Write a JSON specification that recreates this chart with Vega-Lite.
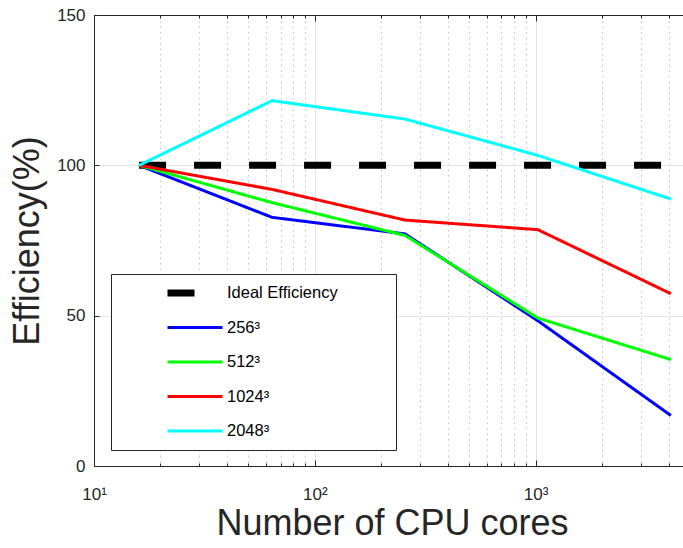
{
  "$schema": "https://vega.github.io/schema/vega-lite/v6.json",
  "width": 589,
  "height": 451,
  "autosize": {"type": "none"},
  "padding": {"left": 94, "top": 15, "right": 0, "bottom": 82},
  "background": "white",
  "config": {
    "view": {"stroke": null},
    "font": "Liberation Sans",
    "axis": {
      "domainColor": "#262626",
      "domainWidth": 1,
      "tickColor": "#262626",
      "labelColor": "#262626",
      "titleColor": "#262626",
      "labelFont": "Liberation Sans",
      "titleFont": "Liberation Sans",
      "titleFontWeight": "normal",
      "labelFontSize": 17,
      "titleFontSize": 36
    },
    "legend": {
      "orient": "none",
      "legendX": 17,
      "legendY": 259,
      "padding": 10,
      "strokeColor": "#262626",
      "fillColor": "white",
      "symbolType": "stroke",
      "symbolSize": 3025,
      "symbolOffset": 43,
      "clipHeight": 18,
      "labelFont": "Liberation Sans",
      "labelFontSize": 16.5,
      "labelColor": "#000000",
      "labelOffset": 1,
      "labelLimit": 0,
      "rowPadding": 16.5
    }
  },
  "data": {
    "values": [
      {"cores": 16, "efficiency": 100, "series": "Ideal Efficiency"},
      {"cores": 64, "efficiency": 100, "series": "Ideal Efficiency"},
      {"cores": 256, "efficiency": 100, "series": "Ideal Efficiency"},
      {"cores": 1024, "efficiency": 100, "series": "Ideal Efficiency"},
      {"cores": 4096, "efficiency": 100, "series": "Ideal Efficiency"},
      {"cores": 16, "efficiency": 100, "series": "256³"},
      {"cores": 64, "efficiency": 82.7, "series": "256³"},
      {"cores": 256, "efficiency": 77.2, "series": "256³"},
      {"cores": 1024, "efficiency": 48.3, "series": "256³"},
      {"cores": 4096, "efficiency": 16.8, "series": "256³"},
      {"cores": 16, "efficiency": 100, "series": "512³"},
      {"cores": 64, "efficiency": 87.6, "series": "512³"},
      {"cores": 256, "efficiency": 76.7, "series": "512³"},
      {"cores": 1024, "efficiency": 49.2, "series": "512³"},
      {"cores": 4096, "efficiency": 35.4, "series": "512³"},
      {"cores": 16, "efficiency": 100, "series": "1024³"},
      {"cores": 64, "efficiency": 92.0, "series": "1024³"},
      {"cores": 256, "efficiency": 81.8, "series": "1024³"},
      {"cores": 1024, "efficiency": 78.6, "series": "1024³"},
      {"cores": 4096, "efficiency": 57.3, "series": "1024³"},
      {"cores": 16, "efficiency": 100, "series": "2048³"},
      {"cores": 64, "efficiency": 121.5, "series": "2048³"},
      {"cores": 256, "efficiency": 115.4, "series": "2048³"},
      {"cores": 1024, "efficiency": 103.3, "series": "2048³"},
      {"cores": 4096, "efficiency": 88.8, "series": "2048³"}
    ]
  },
  "resolve": {"axis": {"x": "independent"}},
  "layer": [
    {
      "mark": {"type": "line", "clip": true},
      "encoding": {
        "x": {
          "field": "cores",
          "type": "quantitative",
          "scale": {"type": "log", "domain": [10, 5000], "range": [0, 596], "nice": false},
          "axis": {
            "orient": "bottom",
            "title": "Number of CPU cores",
            "titlePadding": 1,
            "values": [10, 20, 30, 40, 50, 60, 70, 80, 90, 100, 200, 300, 400, 500, 600, 700, 800, 900, 1000, 2000, 3000, 4000],
            "labelExpr": "datum.value == 10 ? '10¹' : datum.value == 100 ? '10²' : datum.value == 1000 ? '10³' : ''",
            "labelOverlap": false,
            "labelFlush": false,
            "labelPadding": 26,
            "tickSize": {"condition": {"test": "datum.value == 10 || datum.value == 100 || datum.value == 1000", "value": -6}, "value": -3},
            "grid": true,
            "gridColor": {"condition": {"test": "datum.value == 100 || datum.value == 1000", "value": "#e3e3e3"}, "value": "#c4c4c4"},
            "gridDash": {"condition": {"test": "datum.value == 100 || datum.value == 1000", "value": []}, "value": [1.5, 4]},
            "gridOpacity": {"condition": {"test": "datum.value == 10", "value": 0}, "value": 1}
          }
        },
        "y": {
          "field": "efficiency",
          "type": "quantitative",
          "scale": {"domain": [0, 150], "nice": false},
          "axis": {
            "title": "Efficiency(%)",
            "values": [0, 50, 100, 150],
            "tickSize": -5,
            "labelPadding": 14,
            "titlePadding": 10,
            "grid": true,
            "gridColor": "#e3e3e3"
          }
        },
        "color": {
          "field": "series",
          "type": "nominal",
          "title": null,
          "scale": {
            "domain": ["Ideal Efficiency", "256³", "512³", "1024³", "2048³"],
            "range": ["#000000", "#0000ff", "#00ff00", "#ff0000", "#00ffff"]
          },
          "legend": {
            "labelExpr": "datum.label == 'Ideal Efficiency' ? 'Ideal Efficiency\u2800\u2800\u2800\u2800' : datum.label"
          }
        },
        "strokeDash": {
          "field": "series",
          "type": "nominal",
          "title": null,
          "scale": {
            "domain": ["Ideal Efficiency", "256³", "512³", "1024³", "2048³"],
            "range": [[27, 28], [1, 0], [1, 0], [1, 0], [1, 0]]
          }
        },
        "strokeWidth": {
          "field": "series",
          "type": "nominal",
          "title": null,
          "scale": {
            "type": "ordinal",
            "domain": ["Ideal Efficiency", "256³", "512³", "1024³", "2048³"],
            "range": [7, 3, 3, 3, 3]
          }
        }
      }
    },
    {
      "mark": {"type": "point", "opacity": 0},
      "encoding": {
        "x": {
          "field": "cores",
          "type": "quantitative",
          "scale": {"type": "log", "domain": [10, 5000], "range": [0, 596], "nice": false},
          "axis": {
            "orient": "top",
            "title": null,
            "labels": false,
            "values": [10, 20, 30, 40, 50, 60, 70, 80, 90, 100, 200, 300, 400, 500, 600, 700, 800, 900, 1000, 2000, 3000, 4000],
            "tickSize": {"condition": {"test": "datum.value == 10 || datum.value == 100 || datum.value == 1000", "value": -6}, "value": -3},
            "grid": false
          }
        },
        "y": {
          "field": "efficiency",
          "type": "quantitative",
          "scale": {"domain": [0, 150], "nice": false}
        }
      }
    }
  ]
}
